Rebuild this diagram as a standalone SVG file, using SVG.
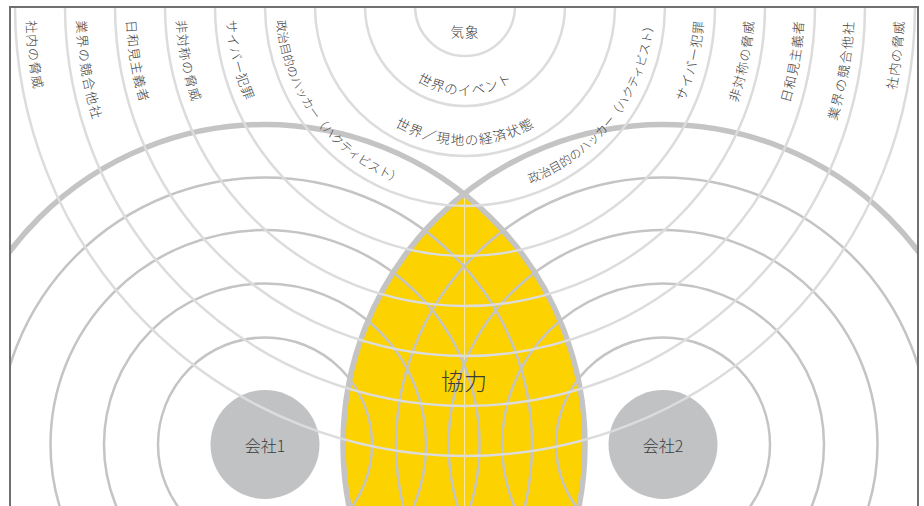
<svg xmlns="http://www.w3.org/2000/svg" width="924" height="506" viewBox="0 0 924 506">
<style>
.lab{font-family:"Noto Sans CJK JP","Noto Sans",sans-serif;font-weight:300;fill:#3c3c3c;font-size:13px;letter-spacing:1px}
.mid{font-size:13.5px;letter-spacing:1px}
.k4{font-size:12px;letter-spacing:0px}
.wide{letter-spacing:1.6px}
.mid3{letter-spacing:1.2px}
.ring{fill:none;stroke:#dcdcdc;stroke-width:2.5}
.crng{fill:none;stroke:#c4c4c4;stroke-width:2.5}
.thick{fill:none;stroke:#c4c4c4;stroke-width:5.5}
.co{fill:#c1c2c4}
.colab{font-family:"Noto Sans CJK JP","Noto Sans",sans-serif;font-weight:300;fill:#3c3c3c;font-size:16px;text-anchor:middle}
</style>
<defs>
<clipPath id="frame"><rect x="11" y="8" width="906" height="500"/></clipPath>
<path id="pL9" d="M26.24 20.56 A439 439 0 0 0 328.6 423.3"/>
<path id="pR9" d="M601.4 423.3 A439 439 0 0 0 903.76 20.56"/>
<path id="pL8" d="M76.27 20.53 A389 389 0 0 0 345.69 376.25"/>
<path id="pR8" d="M584.31 376.25 A389 389 0 0 0 853.73 20.53"/>
<path id="pL7" d="M126.31 20.5 A339 339 0 0 0 362.78 329.22"/>
<path id="pR7" d="M567.22 329.22 A339 339 0 0 0 803.69 20.5"/>
<path id="pL6" d="M176.36 20.5 A289 289 0 0 0 379.9 282.19"/>
<path id="pR6" d="M550.1 282.19 A289 289 0 0 0 753.64 20.5"/>
<path id="pL5" d="M226.44 20.5 A239 239 0 0 0 397.04 235.13"/>
<path id="pR5" d="M532.96 235.13 A239 239 0 0 0 703.56 20.5"/>
<path id="pL4" d="M276.56 20.5 A189 189 0 0 0 446.56 194.1"/>
<path id="pR4" d="M483.44 194.1 A189 189 0 0 0 653.44 20.5"/>
<path id="pM2" d="M381.37 36.44 A89 89 0 0 0 548.63 36.44"/>
<path id="pM3" d="M334.38 53.54 A139 139 0 0 0 595.62 53.54"/>
</defs>
<rect width="924" height="506" fill="#ffffff"/>
<g clip-path="url(#frame)">
  <g id="cooperation">
    <path d="M464 193.9 A320 320 0 0 1 464 695.1 A320 320 0 0 1 464 193.9Z" fill="#fcd200"/>
    <line x1="464.5" y1="196" x2="464.5" y2="506" stroke="#f8e7a0" stroke-width="1"/>
  </g>
  <g id="company-rings">
    <circle class="crng" cx="265" cy="444.5" r="107"/>
    <circle class="crng" cx="265" cy="444.5" r="161"/>
    <circle class="crng" cx="265" cy="444.5" r="214.5"/>
    <circle class="crng" cx="265" cy="444.5" r="267"/>
    <circle class="crng" cx="663" cy="444.5" r="107"/>
    <circle class="crng" cx="663" cy="444.5" r="161"/>
    <circle class="crng" cx="663" cy="444.5" r="214.5"/>
    <circle class="crng" cx="663" cy="444.5" r="267"/>
    <circle class="thick" cx="265" cy="444.5" r="320"/>
    <circle class="thick" cx="663" cy="444.5" r="320"/>
  </g>
  <g id="company1"><circle class="co" cx="265" cy="444.5" r="54.5"/></g>
  <g id="company2"><circle class="co" cx="663" cy="444.5" r="54.5"/></g>
  <g id="threat-rings">
    <circle class="ring" cx="465" cy="6" r="50"/>
    <circle class="ring" cx="465" cy="6" r="100"/>
    <circle class="ring" cx="465" cy="6" r="150"/>
    <circle class="ring" cx="465" cy="6" r="200"/>
    <circle class="ring" cx="465" cy="6" r="250"/>
    <circle class="ring" cx="465" cy="6" r="300"/>
    <circle class="ring" cx="465" cy="6" r="350"/>
    <circle class="ring" cx="465" cy="6" r="400"/>
    <circle class="ring" cx="465" cy="6" r="450"/>
  </g>
</g>
<g id="labels-company">
  <text class="colab" x="265" y="452">会社1</text>
  <text class="colab" x="663" y="452">会社2</text>
  <text class="colab" x="464" y="390" style="font-size:23px">協力</text>
</g>
<g id="labels-rings">
  <text class="lab mid" x="465" y="37" text-anchor="middle">気象</text>
  <text class="lab mid" text-anchor="middle"><textPath href="#pM2" startOffset="50%">世界のイベント</textPath></text>
  <text class="lab mid mid3" text-anchor="middle"><textPath href="#pM3" startOffset="50%">世界／現地の経済状態</textPath></text>
  <text class="lab k4"><textPath href="#pL4">政治目的のハッカー（ハクティビスト）</textPath></text>
  <text class="lab k4" text-anchor="end"><textPath href="#pR4" startOffset="100%">政治目的のハッカー（ハクティビスト）</textPath></text>
  <text class="lab"><textPath href="#pL5">サイバー犯罪</textPath></text>
  <text class="lab" text-anchor="end"><textPath href="#pR5" startOffset="100%">サイバー犯罪</textPath></text>
  <text class="lab"><textPath href="#pL6">非対称の脅威</textPath></text>
  <text class="lab" text-anchor="end"><textPath href="#pR6" startOffset="100%">非対称の脅威</textPath></text>
  <text class="lab"><textPath href="#pL7">日和見主義者</textPath></text>
  <text class="lab" text-anchor="end"><textPath href="#pR7" startOffset="100%">日和見主義者</textPath></text>
  <text class="lab wide"><textPath href="#pL8">業界の競合他社</textPath></text>
  <text class="lab wide" text-anchor="end"><textPath href="#pR8" startOffset="100%">業界の競合他社</textPath></text>
  <text class="lab"><textPath href="#pL9">社内の脅威</textPath></text>
  <text class="lab" text-anchor="end"><textPath href="#pR9" startOffset="100%">社内の脅威</textPath></text>
</g>
<rect x="10" y="7" width="908" height="520" fill="none" stroke="#707070" stroke-width="2"/>
</svg>
